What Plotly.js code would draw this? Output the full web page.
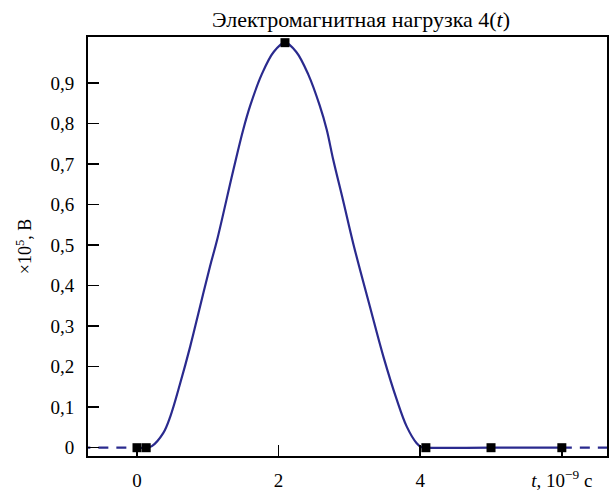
<!DOCTYPE html>
<html>
<head>
<meta charset="utf-8">
<script src="https://cdn.plot.ly/plotly-3.0.1.min.js"></script>
<style>
  html, body { margin: 0; padding: 0; background: #fff; }
  #chart { width: 610px; height: 490px; }
</style>
</head>
<body>
<div id="chart"></div>
<script>
// Electromagnetic load pulse 4(t): time in 1e-9 s, amplitude in 1e5 V
const pulseT = [0, 0.13, 0.21, 0.37, 0.47, 0.61, 0.75, 0.89, 1.03, 1.13, 1.36, 1.50, 1.60, 1.76, 1.93, 2.09,
                2.25, 2.42, 2.58, 2.68, 2.77, 2.91, 3.06, 3.29, 3.48, 3.67, 3.81, 3.95, 4.02, 4.08, 5, 6];
const pulseV = [0, 0, 0.004, 0.036, 0.077, 0.159, 0.249, 0.348, 0.447, 0.512, 0.685, 0.785, 0.845, 0.921, 0.977, 1.0,
                0.977, 0.921, 0.845, 0.785, 0.712, 0.611, 0.500, 0.348, 0.225, 0.118, 0.052, 0.011, 0.001, 0, 0, 0];

// zero level before the pulse and after the last node
const leadT = [-0.8, 0];
const leadV = [0, 0];
const tailT = [6, 6.8];
const tailV = [0, 0];

// node points
const nodeT = [0, 0.13, 2.09, 4.08, 5, 6];
const nodeV = [0, 0, 1, 0, 0, 0];

const xTickVals = [0, 2, 4, 6];
const xTickText = ['0', '2', '4', '<i>t</i>, 10<sup>−9</sup> c'];
const yTickVals = [0, 0.1, 0.2, 0.3, 0.4, 0.5, 0.6, 0.7, 0.8, 0.9];
const yTickText = ['0', '0,1', '0,2', '0,3', '0,4', '0,5', '0,6', '0,7', '0,8', '0,9'];

const lineColor = '#2a2a8e';
const serif = 'Liberation Serif';

const traces = [
  { x: leadT, y: leadV, mode: 'lines', line: { color: lineColor, width: 2.2, dash: '10px,8px' }, hoverinfo: 'skip' },
  { x: tailT, y: tailV, mode: 'lines', line: { color: lineColor, width: 2.2, dash: '10px,8px' }, hoverinfo: 'skip' },
  { x: pulseT, y: pulseV, mode: 'lines', line: { color: lineColor, width: 2.2, shape: 'spline', smoothing: 1 } },
  { x: nodeT, y: nodeV, mode: 'markers', marker: { symbol: 'square', size: 9, color: '#000' } }
];

const layout = {
  width: 610,
  height: 490,
  margin: { l: 88, r: 3, t: 37, b: 34 },
  paper_bgcolor: '#fff',
  plot_bgcolor: '#fff',
  showlegend: false,
  font: { family: serif, size: 19, color: '#000' },
  title: {
    text: 'Электромагнитная нагрузка 4(<i>t</i>)',
    font: { family: serif, size: 22, color: '#000' },
    xref: 'paper', x: 0.526, xanchor: 'center',
    yref: 'container', y: 0.96, yanchor: 'middle'
  },
  xaxis: {
    range: [-0.692, 6.638],
    tickmode: 'array', tickvals: xTickVals, ticktext: xTickText,
    ticks: 'inside', ticklen: 11, tickwidth: 1.5, tickcolor: '#000',
    showline: true, linecolor: '#000', linewidth: 2, mirror: true,
    showgrid: false, zeroline: false,
    tickfont: { family: serif, size: 19, color: '#000' },
    ticklabelstandoff: 6
  },
  yaxis: {
    range: [-0.0205, 1.014],
    tickmode: 'array', tickvals: yTickVals, ticktext: yTickText,
    ticks: 'inside', ticklen: 11, tickwidth: 1.5, tickcolor: '#000',
    showline: true, linecolor: '#000', linewidth: 2, mirror: true,
    showgrid: false, zeroline: false,
    tickfont: { family: serif, size: 19, color: '#000' },
    ticklabelstandoff: 8,
    title: { text: '×10<sup>5</sup>, В', font: { family: serif, size: 18, color: '#000' }, standoff: 14 }
  }
};

Plotly.newPlot('chart', traces, layout, { staticPlot: true, displayModeBar: false });
</script>
</body>
</html>
